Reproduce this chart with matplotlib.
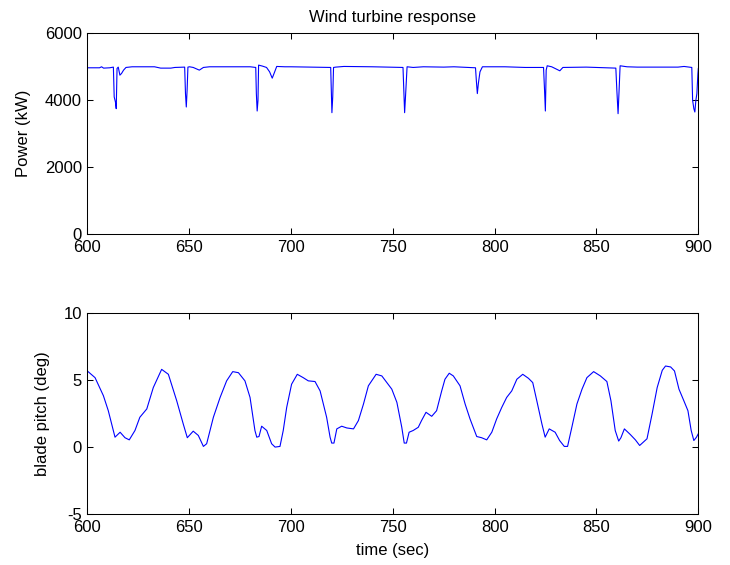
import matplotlib
matplotlib.use('Agg')
import matplotlib.pyplot as plt

plt.rcParams['font.family'] = ['Liberation Sans', 'DejaVu Sans']
plt.rcParams['font.size'] = 12
plt.rcParams['axes.unicode_minus'] = False

# power output (kW)
power_t = [600, 606, 607, 608, 611, 612.8, 613.2, 613.8, 614.2, 614.6, 615.2, 616, 616.8, 617.8, 619,
           622, 633, 636, 641, 643, 647.8, 648.2, 648.6, 649.0, 649.4, 650.2, 652, 655, 657, 660,
           680, 682.7, 683.0, 683.4, 683.8, 684.1, 686, 688, 689.5, 690.8, 692.0, 693, 697, 700,
           719.5, 719.8, 720.1, 720.5, 720.9, 722, 726, 740, 755.0, 755.4, 755.8, 756.4, 757.0,
           760, 765, 775, 780, 790.6, 791.0, 791.5, 792.0, 792.8, 794, 800, 805, 815,
           824.0, 824.5, 824.9, 825.3, 825.8, 828, 832, 833.5, 845, 859.5, 860.0, 860.6, 861.1,
           861.6, 865, 870, 880, 890, 893, 896.8, 897.2, 897.8, 898.3, 898.8, 899.3, 899.8, 900]
power_kw = [4970, 4970, 5000, 4960, 4970, 4990, 4100, 3950, 3750, 4950, 4990, 4750, 4800, 4900, 4980,
            5000, 5000, 4960, 4960, 4980, 4990, 4200, 3800, 4300, 4990, 5000, 4980, 4900, 4980, 5000,
            5000, 4980, 4200, 3680, 4000, 5050, 5020, 4980, 4850, 4660, 4850, 5010, 5000, 5000,
            4980, 4300, 3630, 4100, 4980, 4990, 5010, 5000, 4980, 4300, 3630, 4300, 5000,
            4980, 5000, 4990, 5000, 4970, 4600, 4200, 4500, 4850, 5000, 5000, 5000, 4980,
            4980, 4300, 3680, 4900, 5030, 5000, 4880, 4980, 4990, 4960, 4300, 3600, 4300,
            5030, 5000, 4990, 4990, 4990, 5010, 4980, 4000, 3750, 3650, 4000, 4200, 4800, 4950]

# blade pitch (deg)
pitch_t = [600, 603.8, 607.9, 610.3, 613.6, 616.1, 618.5, 620.6, 623.4, 625.8, 629.2, 632.4, 636.5,
           639.8, 643.9, 647.1, 649.1, 652, 654.5, 657.0, 658.6, 661.9, 665.2, 668.4, 671.4, 674.2,
           677.4, 679.9, 682.3, 683.2, 684.3, 685.6, 688.1, 690.5, 692.2, 694.6, 696.2, 697.9, 700.3,
           703.1, 706, 708.5, 711.8, 714.3, 717.5, 719.2, 720, 721.1, 722.5, 724.9, 727.4, 730.7,
           733.1, 735.6, 738.0, 741.8, 744.6, 749.5, 752, 754.4, 755.6, 756.7, 758.0, 760, 762.5,
           764.1, 766.3, 769.1, 771.5, 774.0, 775.6, 777.7, 779.7, 783, 785.5, 787.9, 791.2, 793.6,
           796.1, 798.6, 801.0, 803.5, 805.9, 808.4, 810.9, 813.8, 816.6, 818.7, 820.7, 823.2, 824.8,
           825.6, 826.8, 829.7, 831.9, 834.2, 835.8, 837.9, 840.4, 842.9, 845.3, 848.6, 851.9, 855.1,
           857.1, 859.2, 860.9, 862.0, 863.7, 866.6, 869.1, 871.2, 874.8, 877.3, 879.8, 882.3, 883.9,
           886.4, 888.3, 890.5, 892.9, 894.9, 896.5, 897.8, 899.1, 900]
pitch_deg = [5.69, 5.19, 3.84, 2.72, 0.74, 1.11, 0.70, 0.54, 1.24, 2.23, 2.85, 4.45, 5.81,
             5.44, 3.46, 1.73, 0.70, 1.19, 0.87, 0.05, 0.25, 2.23, 3.71, 4.95, 5.64, 5.56,
             4.95, 3.71, 1.24, 0.74, 0.79, 1.56, 1.24, 0.25, 0.0, 0.05, 1.24, 2.97, 4.70,
             5.44, 5.19, 4.95, 4.90, 4.2, 2.23, 0.74, 0.30, 0.30, 1.36, 1.56, 1.43, 1.36,
             1.98, 3.22, 4.58, 5.44, 5.32, 4.33, 3.34, 1.48, 0.30, 0.30, 1.11, 1.24, 1.48,
             1.98, 2.60, 2.30, 2.72, 4.2, 5.07, 5.52, 5.32, 4.58, 3.22, 2.11, 0.79, 0.70,
             0.54, 1.11, 2.11, 2.97, 3.71, 4.2, 5.07, 5.44, 5.14, 4.82, 3.46, 1.73, 0.74,
             0.99, 1.36, 1.11, 0.49, 0.05, 0.05, 1.48, 3.22, 4.33, 5.19, 5.64, 5.32, 4.9,
             3.46, 1.24, 0.45, 0.70, 1.36, 0.94, 0.54, 0.12, 0.62, 2.47, 4.45, 5.74, 6.06,
             5.99, 5.69, 4.33, 3.46, 2.72, 1.24, 0.49, 0.74, 1.0]

x_ticks = [600, 650, 700, 750, 800, 850, 900]

fig = plt.figure(figsize=(7.3, 5.65), dpi=100)
ax1 = fig.add_axes([0.1196, 0.5853, 0.837, 0.3558])
ax2 = fig.add_axes([0.1196, 0.0903, 0.837, 0.3552])

ax1.plot(power_t, power_kw, color='#0000ff', lw=0.8)
ax1.set_xlim(600, 900)
ax1.set_ylim(0, 6000)
ax1.set_yticks([0, 2000, 4000, 6000])
ax1.set_ylabel('Power (kW)', va='center')
ax1.yaxis.set_label_coords(-0.105, 0.5)
ax1.set_title('Wind turbine response', fontsize=12, pad=8)

ax2.plot(pitch_t, pitch_deg, color='#0000ff', lw=0.8)
ax2.set_xlim(600, 900)
ax2.set_ylim(-5, 10)
ax2.set_yticks([-5, 0, 5, 10])
ax2.set_ylabel('blade pitch (deg)', va='center')
ax2.yaxis.set_label_coords(-0.073, 0.5)
ax2.set_xlabel('time (sec)', va='center')
ax2.xaxis.set_label_coords(0.5, -0.18)

for ax in (ax1, ax2):
    ax.set_xticks(x_ticks)
    ax.tick_params(direction='in', length=4, width=0.75, top=True, right=True, pad=4, labelsize=12)
    for s in ax.spines.values():
        s.set_linewidth(0.75)

plt.savefig('out.png', dpi=100)
